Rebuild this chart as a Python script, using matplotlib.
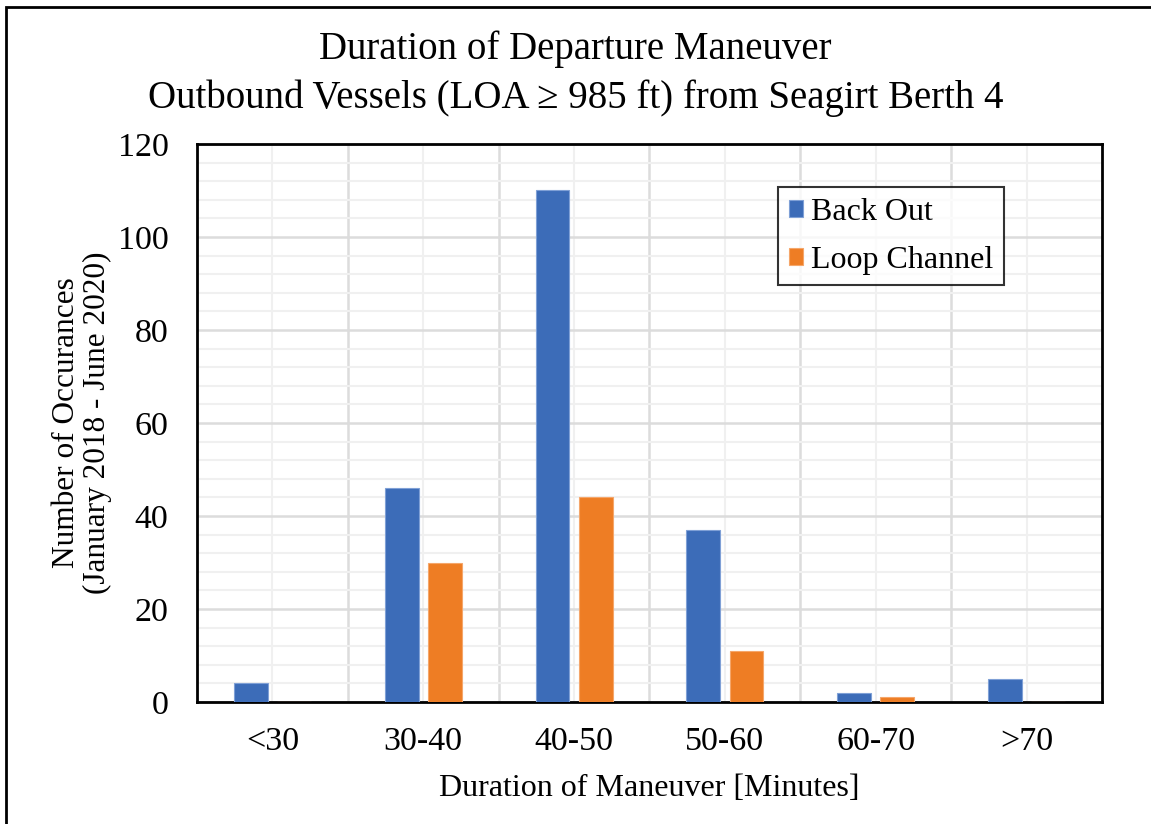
import numpy as np
import matplotlib
matplotlib.use("Agg")
import matplotlib.pyplot as plt
from matplotlib.patches import Rectangle
from matplotlib.ticker import MultipleLocator

# Data
categories = ["<30", "30-40", "40-50", "50-60", "60-70", ">70"]
back_out = [4, 46, 110, 37, 2, 5]
loop_channel = [0, 30, 44, 11, 1, 0]

plt.rcParams["font.family"] = ["Liberation Serif", "DejaVu Serif"]

fig = plt.figure(figsize=(11.51, 8.24), dpi=100)
W, H = 1151, 824
ax = fig.add_axes([197 / W, 1 - 702 / H, (1102 - 197) / W, (702 - 144) / H])

# outer chart border (only left/top visible in the reference)
fig.patches.append(Rectangle((6 / W, -0.05), 1.2, 1 - 7 / H + 0.05,
                             transform=fig.transFigure, fill=False,
                             edgecolor="black", linewidth=2))

x = np.arange(len(categories))
w = 0.225
ax.bar(x - 0.143, back_out, w, color="#3C6CB8", edgecolor="#7FA0D6",
       linewidth=0.8, label="Back Out", zorder=3)
ax.bar(x + 0.143, loop_channel, w, color="#EE7D24", edgecolor="#F5A66A",
       linewidth=0.8, label="Loop Channel", zorder=3)

ax.set_xlim(-0.5, len(categories) - 0.5)
ax.set_ylim(0, 120)
ax.set_xticks(x)
ax.set_xticklabels(categories)
ax.set_xticks(x[:-1] + 0.5, minor=True)
ax.yaxis.set_major_locator(MultipleLocator(20))
ax.yaxis.set_minor_locator(MultipleLocator(4))

# gridlines: darker at category boundaries / every 20, lighter elsewhere
ax.grid(which="minor", axis="y", color="#F0F0F0", linewidth=1.5, zorder=0)
ax.grid(which="major", axis="y", color="#DCDCDC", linewidth=1.8, zorder=1)
ax.grid(which="minor", axis="x", color="#DCDCDC", linewidth=1.8, zorder=1)
ax.grid(which="major", axis="x", color="#F0F0F0", linewidth=1.5, zorder=0)
ax.set_axisbelow(True)

ax.tick_params(which="both", length=0, labelsize=24.5)
ax.tick_params(axis="x", pad=18)
ax.tick_params(axis="y", pad=20.5)
for s in ax.spines.values():
    s.set_linewidth(2)
    s.set_color("black")

ax.set_xlabel("Duration of Maneuver [Minutes]", fontsize=23, labelpad=12)
ax.set_ylabel("Number of Occurances\n(January 2018 - June 2020)", fontsize=22.5,
              labelpad=4, linespacing=1.1)

fig.text(0.5, 1 - 49 / H, "Duration of Departure Maneuver",
         ha="center", va="center", fontsize=28)
fig.text(0.5, 1 - 98 / H, "Outbound Vessels (LOA \u2265 985 ft) from Seagirt Berth 4",
         ha="center", va="center", fontsize=28)

leg = ax.legend(loc="upper left", bbox_to_anchor=((778 - 197) / 905, 1 - (187 - 144) / 558),
                fontsize=23, frameon=True, fancybox=False, edgecolor="black",
                handlelength=0.45, handleheight=0.45, handletextpad=0.25,
                labelspacing=0.6, borderpad=0.33, borderaxespad=0)
leg.get_frame().set_linewidth(1.5)

fig.savefig("out.png", dpi=100)
